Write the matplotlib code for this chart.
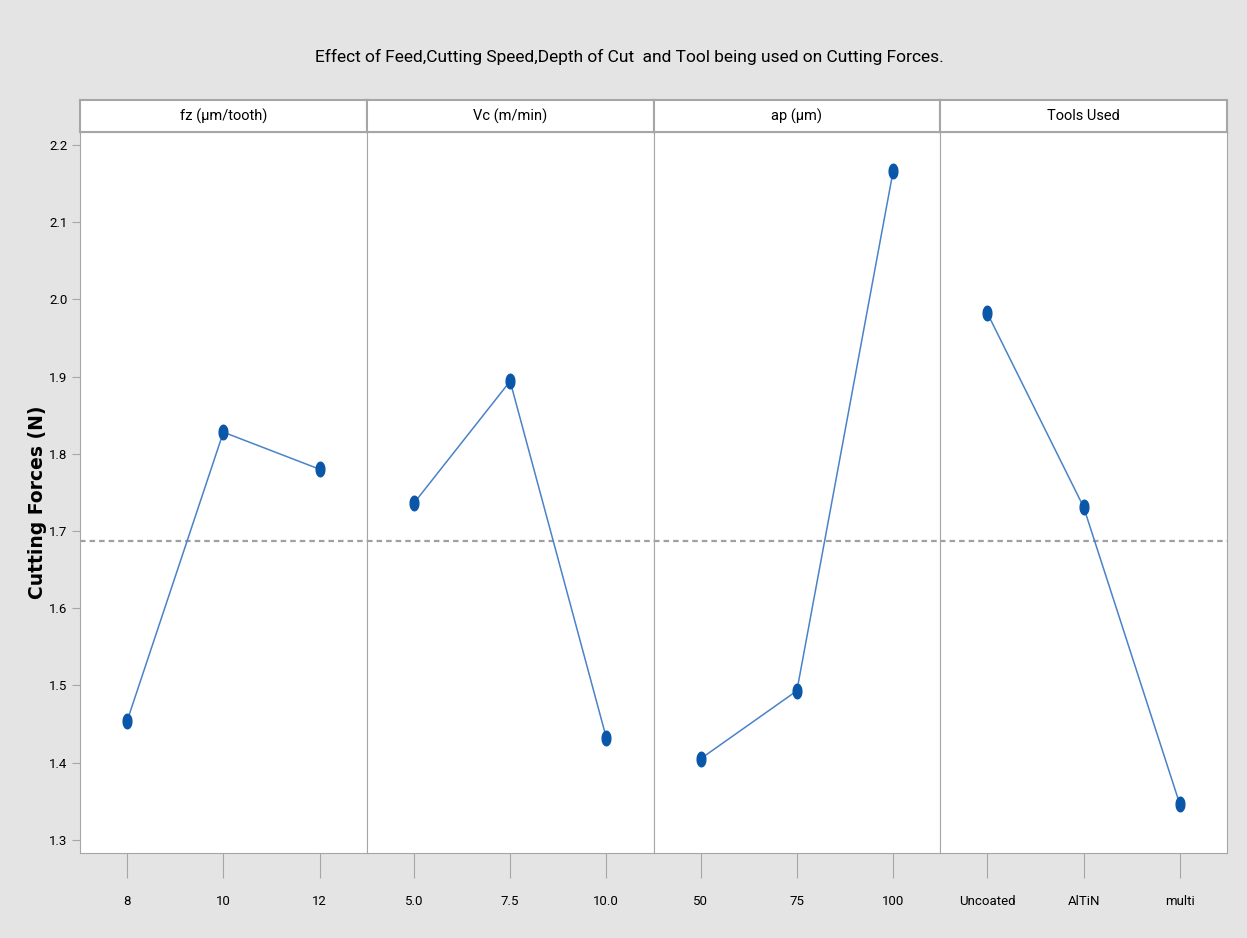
import numpy as np
import matplotlib.pyplot as plt

# factor names and levels
factors = ["fz (µm/tooth)", "Vc (m/min)", "ap (µm)", "Tools Used"]
fz_levels = ["8", "10", "12"]
vc_levels = ["5.0", "7.5", "10.0"]
ap_levels = ["50", "75", "100"]
tool_levels = ["Uncoated", "AlTiN", "multi"]

# mean cutting force at each level (N)
fz_means = [1.454, 1.828, 1.780]
vc_means = [1.736, 1.894, 1.432]
ap_means = [1.405, 1.493, 2.166]
tool_means = [1.982, 1.731, 1.346]

grand_mean = 1.687
y_ticks = [1.3, 1.4, 1.5, 1.6, 1.7, 1.8, 1.9, 2.0, 2.1, 2.2]

levels = [fz_levels, vc_levels, ap_levels, tool_levels]
means = [fz_means, vc_means, ap_means, tool_means]

plt.rcParams['font.family'] = ['Roboto', 'DejaVu Sans']

# tall narrow ellipse marker, like the squashed dots in the original
t = np.linspace(0, 2*np.pi, 40)
ellipse = np.column_stack([np.cos(t)*0.6, np.sin(t)])

fig = plt.figure(figsize=(12.47, 9.38), dpi=100, facecolor='#e4e4e4')
left, right = 80/1247, 1227/1247
bottom, top = 1 - 853/938, 1 - 132/938
strip_top = 1 - 100/938
w = (right - left)/4
spine_col = '#a6a6a6'

axes = []
for i in range(4):
    ax = fig.add_axes([left + i*w, bottom, w, top - bottom], sharey=axes[0] if axes else None)
    axes.append(ax)
    x = np.arange(len(levels[i]))
    ax.axhline(grand_mean, color='#a0a0a0', linestyle=(0, (2.5, 1.8)), linewidth=1.6, zorder=1)
    ax.plot(x, means[i], color='#4a82c9', linewidth=1.1, zorder=2)
    ax.plot(x, means[i], linestyle='none', marker=ellipse, markersize=10.5,
            color='#0a56a8', markeredgecolor='#0a56a8', zorder=3)
    ax.set_xlim(-0.49, 2.49)
    ax.set_ylim(1.2829, 2.2168)
    ax.set_xticks(x)
    ax.set_xticklabels(levels[i], fontsize=9.5)
    ax.tick_params(axis='x', length=18, color=spine_col, pad=12)
    for s in ax.spines.values():
        s.set_color(spine_col)
    if i == 0:
        ax.set_yticks(y_ticks)
        ax.set_yticklabels([f"{v:.1f}" for v in y_ticks], fontsize=9.5)
        ax.tick_params(axis='y', length=6, color=spine_col, pad=3)
    else:
        ax.tick_params(axis='y', left=False, labelleft=False)

    # header strip
    sax = fig.add_axes([left + i*w, top, w, strip_top - top])
    sax.set_xticks([])
    sax.set_yticks([])
    for s in sax.spines.values():
        s.set_color(spine_col)
        s.set_linewidth(1.5)
    sax.text(0.5, 0.5, factors[i], ha='center', va='center', fontsize=10.5,
             transform=sax.transAxes)

fig.text(38/1247, 1 - 502/938, "Cutting Forces (N)", rotation=90,
         ha='center', va='center', fontsize=13.5, fontweight='bold', family='DejaVu Sans')

fig.text(0.505, 1 - 57/938,
         "Effect of Feed,Cutting Speed,Depth of Cut  and Tool being used on Cutting Forces.",
         ha='center', va='center', fontsize=12.5)

fig.savefig('out.png', dpi=100, facecolor=fig.get_facecolor())
